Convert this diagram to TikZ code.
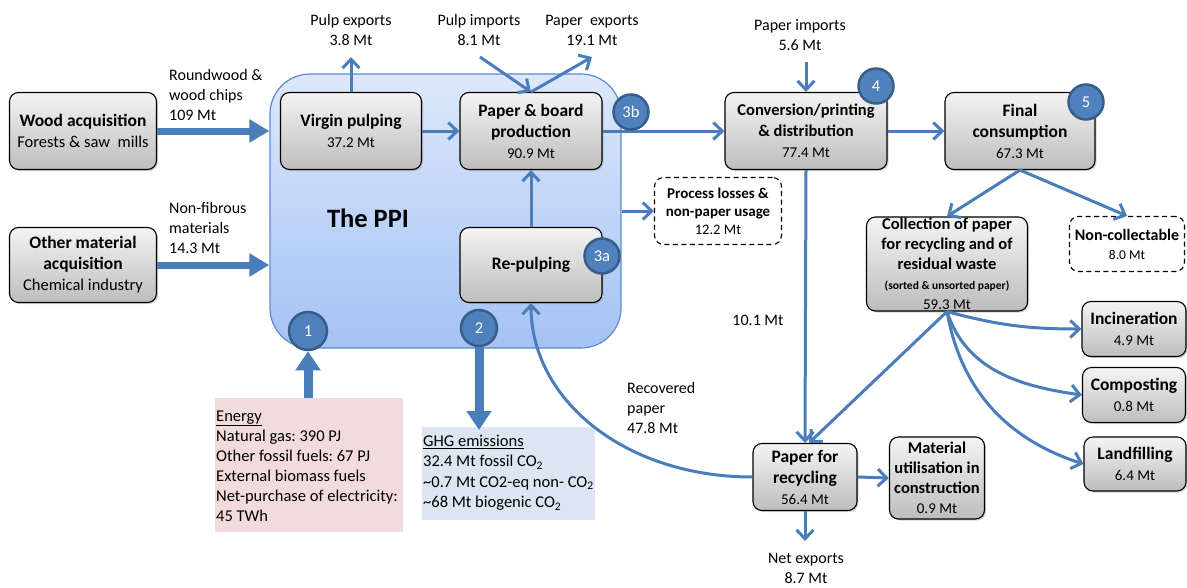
\documentclass[tikz,border=0pt]{standalone}
\usepackage{fontspec}
\setmainfont{Carlito}
\usetikzlibrary{arrows.meta,shadows}
\definecolor{arr}{HTML}{4A7EBB}
\definecolor{circ}{HTML}{4F81BD}
\definecolor{circb}{HTML}{385D8A}
\definecolor{ppitop}{HTML}{DDE8FA}
\definecolor{ppibot}{HTML}{A4C2F4}
\definecolor{ppib}{HTML}{5B8BD0}
\definecolor{boxtop}{HTML}{F4F4F4}
\definecolor{boxbot}{HTML}{BDBDBD}
\definecolor{enfill}{HTML}{F2DCDB}
\definecolor{ghgfill}{HTML}{DCE6F2}
\newcommand{\Vv}{\fontsize{15}{18}\selectfont\mdseries}
\frenchspacing
\begin{document}
\begin{tikzpicture}[x=1pt,y=-1pt,
  every node/.style={font=\fontsize{16}{20}\selectfont},
  box/.style={draw=black, line width=1.1pt, rounded corners=9pt, top color=boxtop, bottom color=boxbot,
    drop shadow={shadow xshift=1.5pt,shadow yshift=-1.5pt,opacity=0.35}, align=center, inner sep=0pt,
    font=\fontsize{17.5}{21}\selectfont\bfseries},
  dbox/.style={draw=black, line width=1.1pt, dash pattern=on 5pt off 3.5pt, rounded corners=9pt, fill=white, align=center, inner sep=0pt},
  ppibox/.style={draw=ppib, line width=1.2pt, rounded corners=40pt, top color=ppitop, bottom color=ppibot},
  num/.style={circle, fill=circ, draw=circb, line width=2.5pt, minimum size=35pt, inner sep=0pt, text=white,
    font=\fontsize{16.5}{18}\selectfont},
  thin/.style={draw=arr, line width=3pt, -{Straight Barb[length=9pt,width=17pt]}},
  thick/.style={draw=arr, line width=7pt, -{Triangle[length=20pt,width=22pt]}},
  thicker/.style={draw=arr, line width=9pt, -{Triangle[length=19pt,width=24pt]}},
  lbl/.style={align=center, inner sep=0pt},
]
\useasboundingbox (0,0) rectangle (1187,587);

% PPI container
\node[ppibox, minimum width=351pt, minimum height=274pt] (ppi) at (445.5,211) {};
\node[font=\fontsize{26.5}{30}\selectfont\bfseries] (ppilbl) at (368,218) {The PPI};

% boxes
\node[box, minimum width=147pt, minimum height=77pt] (wood) at (83,131)
  {Wood acquisition\\{\fontsize{16.5}{20}\selectfont\mdseries Forests \& saw\ \ mills}};
\node[box, minimum width=147pt, minimum height=75pt] (other) at (83,265)
  {Other material\\acquisition\\{\fontsize{16.5}{20}\selectfont\mdseries Chemical industry}};
\node[box, minimum width=141pt, minimum height=77pt] (virgin) at (351,131) {Virgin pulping\\{\Vv 37.2 Mt}};
\node[box, minimum width=142pt, minimum height=77pt] (paper) at (531,131) {Paper \& board\\production\\{\Vv 90.9 Mt}};
\node[box, minimum width=142pt, minimum height=75pt] (repulp) at (531,265) {Re-pulping};
\node[box, minimum width=162pt, minimum height=77pt] (conv) at (806,131)
  {{\fontsize{16.5}{20}\selectfont Conversion/printing}\\{\fontsize{16.5}{20}\selectfont \& distribution}\\{\Vv 77.4 Mt}};
\node[box, minimum width=150pt, minimum height=77pt] (final) at (1020,131) {Final\\consumption\\{\Vv 67.3 Mt}};
\node[dbox, minimum width=127pt, minimum height=67pt, font=\fontsize{15}{18}\selectfont\bfseries] (loss) at (718,211)
  {Process losses \&\\non-paper usage\\{\fontsize{14.5}{18}\selectfont\mdseries 12.2 Mt}};
\node[box, minimum width=161pt, minimum height=94pt, font=\fontsize{16.5}{20}\selectfont\bfseries] (coll) at (947,264)
  {Collection of paper\\for recycling and of\\residual waste\\{\fontsize{11.5}{14}\selectfont (sorted \& unsorted paper)}\\{\Vv 59.3 Mt}};
\node[dbox, minimum width=115pt, minimum height=55pt, font=\fontsize{16}{19}\selectfont\bfseries] (noncoll) at (1127,244)
  {Non-collectable\\{\fontsize{13.5}{17}\selectfont\mdseries 8.0 Mt}};
\node[box, minimum width=104pt, minimum height=55pt] (incin) at (1134,329) {Incineration\\{\Vv 4.9 Mt}};
\node[box, minimum width=103pt, minimum height=55pt] (comp) at (1134,395) {Composting\\{\Vv 0.8 Mt}};
\node[box, minimum width=102pt, minimum height=54pt] (landf) at (1135,464) {Landfilling\\{\Vv 6.4 Mt}};
\node[box, minimum width=104pt, minimum height=67pt] (pfr) at (805,477) {Paper for\\recycling\\{\Vv 56.4 Mt}};
\node[box, minimum width=95pt, minimum height=82pt, font=\fontsize{16.5}{20}\selectfont\bfseries] (mat) at (937,478)
  {Material\\utilisation in\\construction\\{\Vv 0.9 Mt}};

% info boxes
\node[fill=enfill, minimum width=188pt, minimum height=134pt, inner sep=0pt, anchor=north west] (energy) at (215,398) {};
\node[anchor=west, align=left, inner sep=0pt, font=\fontsize{16.5}{20}\selectfont] (entext) at ([xshift=1pt,yshift=-1pt]energy.west)
  {\underline{Energy}\\Natural gas: 390 PJ\\Other fossil fuels: 67 PJ\\External biomass fuels\\Net-purchase of electricity:\\45 TWh};
\node[fill=ghgfill, minimum width=173pt, minimum height=93pt, inner sep=0pt, anchor=north west] (ghg) at (422,427) {};
\node[anchor=west, align=left, inner sep=0pt, font=\fontsize{16.5}{20.5}\selectfont] (ghgtext) at ([xshift=1pt,yshift=1pt]ghg.west)
  {\underline{GHG emissions}\\32.4 Mt fossil CO\textsubscript{2}\\\textasciitilde0.7 Mt CO2-eq non- CO\textsubscript{2}\\\textasciitilde68 Mt biogenic CO\textsubscript{2}};

% labels
\node[lbl, align=left, anchor=west] (rw) at (169,95) {Roundwood \&\\wood chips\\109 Mt};
\node[lbl, align=left, anchor=west] (nf) at (169,228) {Non-fibrous\\materials\\14.3 Mt};
\node[lbl] (pexl) at (351,30) {Pulp exports\\3.8 Mt};
\node[lbl] (piml) at (479,30) {Pulp imports\\8.1 Mt};
\node[lbl] (paxl) at (592,30) {Paper\ \ exports\\19.1 Mt};
\node[lbl] (paiml) at (800,35) {Paper imports\\5.6 Mt};
\node[lbl] (tenl) at (758,320) {10.1 Mt};
\node[lbl, align=left, anchor=west] (recl) at (627,408) {Recovered\\paper\\47.8 Mt};
\node[lbl] (nexl) at (806,568) {Net exports\\8.7 Mt};

% free ends
\coordinate (pe) at (351,57);
\coordinate (pi) at (480,57);
\coordinate (px) at (592,57);
\coordinate (pim) at (806,62);
\coordinate (ne) at (805,541);

% thick arrows
\draw[thick] (wood.east) -- (ppi.west |- wood.east);
\draw[thick] (other.east) -- (ppi.west |- other.east);

% thin arrows
\draw[thin] (virgin.north) -- (pe);
\draw[thin] (pi) -- (paper.north);
\draw[thin] (paper.north) -- (px);
\draw[thin] (virgin.east) -- (paper.west);
\draw[thin] (repulp.north) -- (paper.south);
\draw[thin] (paper.east) -- (conv.west);
\draw[thin] (ppi.east |- loss.west) -- (loss.west);
\draw[thin] (pim) -- (conv.north);
\draw[thin] (conv.east) -- (final.west);
\draw[thin] (final.south) -- (coll.north);
\draw[thin] (final.south) -- (noncoll.north);
\draw[thin] (conv.south) -- (pfr.north);
\draw[thin] (coll.south) -- ([xshift=4pt]pfr.north);
\draw[thin] (coll.south) to[out=-15,in=180] (incin.west);
\draw[thin] (coll.south) to[out=-72,in=172] (comp.west);
\draw[thin] (coll.south) to[out=-80,in=162] (landf.west);
\draw[thin] (pfr.west) .. controls (625,477) and (531,400) .. (repulp.south);
\draw[thin] (pfr.east) -- (mat.west);
\draw[thin] (pfr.south) -- (ne);

% circles
\node[num, minimum size=38pt] (c1) at (308,331) {1};
\node[num, minimum size=36pt] (c2) at (479,328) {2};
\node[num] (c3a) at (602,256) {3a};
\node[num] (c3b) at (631,112) {3b};
\node[num] (c4) at (876,86) {4};
\node[num] (c5) at (1086,102) {5};

\draw[thicker] (energy.north -| c1) -- (c1.south);
\draw[thicker] (c2.south) -- ([yshift=-3pt]c2.south |- ghg.north);
\end{tikzpicture}
\end{document}
